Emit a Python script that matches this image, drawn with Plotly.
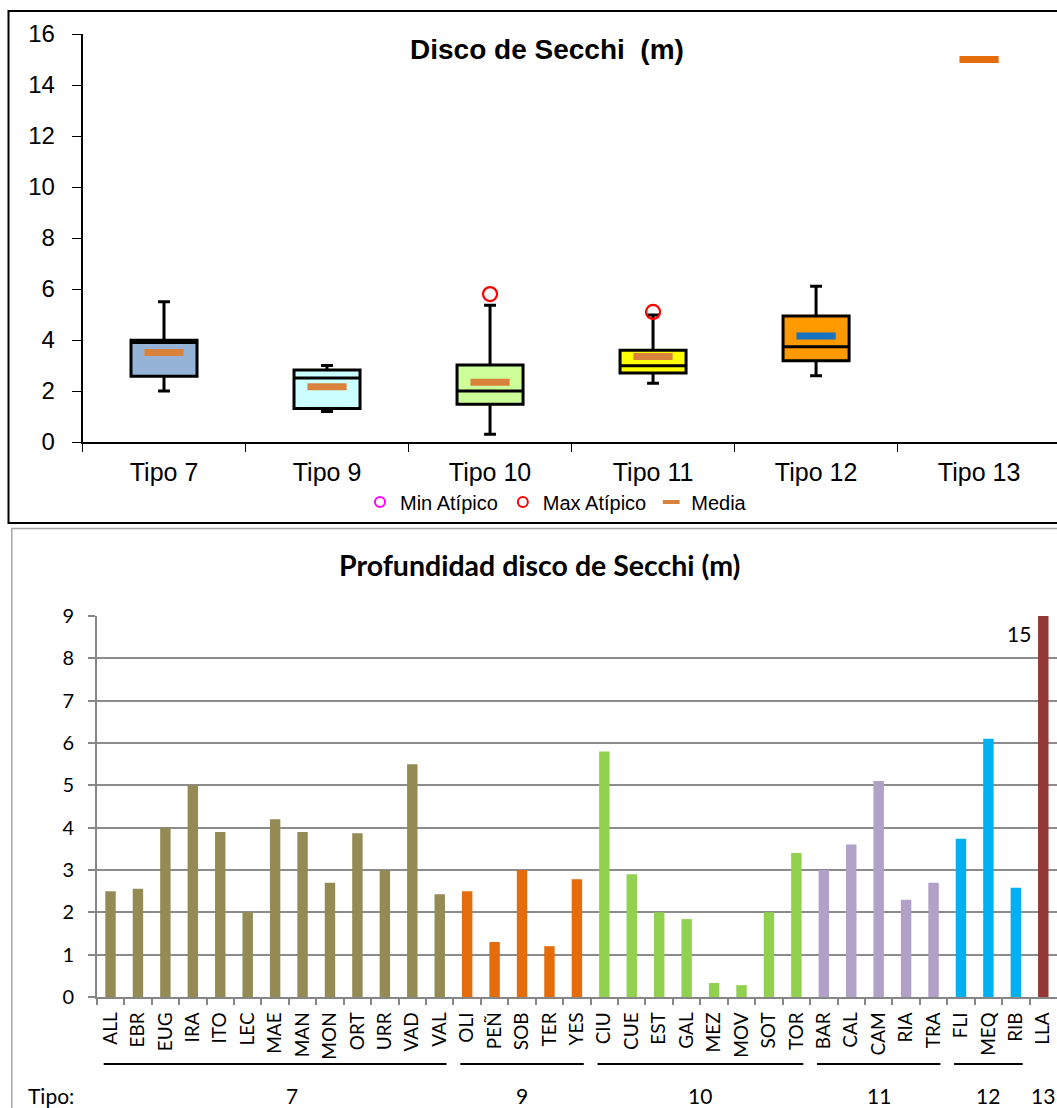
import plotly.graph_objects as go

W, H = 1057, 1108

# ---------------- Box summary per river type ----------------
tipos = ["Tipo 7", "Tipo 9", "Tipo 10", "Tipo 11", "Tipo 12", "Tipo 13"]
box_tipos = ["Tipo 7", "Tipo 9", "Tipo 10", "Tipo 11", "Tipo 12"]
whisker_low = [2.0, 1.2, 0.3, 2.3, 2.6]
q1 = [2.58, 1.31, 1.48, 2.71, 3.19]
median = [3.9, 2.51, 2.0, 2.99, 3.74]
q3 = [3.99, 2.82, 3.02, 3.6, 4.94]
whisker_high = [5.5, 3.0, 5.36, 4.98, 6.11]
means = [3.51, 2.17, 2.34, 3.35, 4.16, 15.0]
max_out_tipos = ["Tipo 10", "Tipo 11"]
max_out_vals = [5.8, 5.1]

box_fill = ["#95B3D7", "#CCFFFF", "#CCFF99", "#FFFF00", "#FF9900"]
mean_colors = ["#D8823C", "#D8823C", "#D8823C", "#D8823C", "#1473C4", "#E46C0A"]

# ---------------- Secchi depth per station ----------------
codes = ["ALL", "EBR", "EUG", "IRA", "ITO", "LEC", "MAE", "MAN", "MON", "ORT",
         "URR", "VAD", "VAL", "OLI", "PEÑ", "SOB", "TER", "YES", "CIU", "CUE",
         "EST", "GAL", "MEZ", "MOV", "SOT", "TOR", "BAR", "CAL", "CAM", "RIA",
         "TRA", "FLI", "MEQ", "RIB", "LLA"]
depth = [2.5, 2.56, 4.0, 5.0, 3.9, 2.0, 4.2, 3.9, 2.7, 3.87,
         3.0, 5.5, 2.43, 2.5, 1.3, 3.0, 1.2, 2.78, 5.8, 2.9,
         2.0, 1.84, 0.33, 0.28, 2.0, 3.4, 3.0, 3.6, 5.1, 2.3,
         2.7, 3.74, 6.1, 2.58, 15.0]
code_tipo = [7, 7, 7, 7, 7, 7, 7, 7, 7, 7,
             7, 7, 7, 9, 9, 9, 9, 9, 10, 10,
             10, 10, 10, 10, 10, 10, 11, 11, 11, 11,
             11, 12, 12, 12, 13]
tipo_color = {7: "#948A54", 9: "#E46C0A", 10: "#92D050", 11: "#B1A0C7",
              12: "#00B0F0", 13: "#953735"}
bar_ymax = 9

ARIAL = "Liberation Sans, Arial, sans-serif"
CALI = "Lato, Carlito, Calibri, sans-serif"


def px_x(v):
    return v / W


def px_y(v):
    return 1 - v / H


fig = go.Figure()

# ----- top panel: boxes -----
for i, t in enumerate(box_tipos):
    fig.add_trace(go.Box(
        x=[t], q1=[q1[i]], median=[median[i]], q3=[q3[i]],
        lowerfence=[whisker_low[i]], upperfence=[whisker_high[i]],
        fillcolor=box_fill[i], line=dict(color="black", width=3),
        width=0.405, whiskerwidth=0.18, boxpoints=False,
        showlegend=False, hoverinfo="skip", xaxis="x", yaxis="y",
    ))

# means as short dashes
fig.add_trace(go.Scatter(
    x=tipos, y=means, mode="markers", showlegend=False, hoverinfo="skip",
    marker=dict(symbol="line-ew", size=28,
                line=dict(width=7, color=mean_colors)),
    xaxis="x", yaxis="y",
))
# maximum outliers
fig.add_trace(go.Scatter(
    x=max_out_tipos, y=max_out_vals, mode="markers", showlegend=False,
    hoverinfo="skip",
    marker=dict(symbol="circle-open", size=14, color="#FF0000",
                line=dict(width=2.2, color="#FF0000")),
    xaxis="x", yaxis="y",
))

# legend entries
fig.add_trace(go.Scatter(
    x=[tipos[0]], y=[None], mode="markers", name="Min Atípico",
    marker=dict(symbol="circle-open", size=10, color="#FF00FF",
                line=dict(width=2, color="#FF00FF")),
    xaxis="x", yaxis="y",
))
fig.add_trace(go.Scatter(
    x=[tipos[0]], y=[None], mode="markers", name="Max Atípico",
    marker=dict(symbol="circle-open", size=10, color="#FF0000",
                line=dict(width=2, color="#FF0000")),
    xaxis="x", yaxis="y",
))
fig.add_trace(go.Scatter(
    x=[tipos[0]], y=[None], mode="markers", name="Media",
    marker=dict(symbol="line-ew", size=12,
                line=dict(width=4, color="#D8823C")),
    xaxis="x", yaxis="y",
))

# ----- bottom panel: bars -----
fig.add_trace(go.Bar(
    x=codes, y=depth, marker=dict(color=[tipo_color[t] for t in code_tipo],
                                  line=dict(width=0)),
    showlegend=False, hoverinfo="skip", xaxis="x2", yaxis="y2",
))

fig.update_layout(
    template="none",
    width=W, height=H, autosize=False,
    margin=dict(l=0, r=0, t=0, b=0, pad=0),
    paper_bgcolor="white", plot_bgcolor="white",
    boxmode="overlay", bargap=0.62,
    showlegend=True,
    legend=dict(orientation="h", x=px_x(556), y=px_y(502),
                xanchor="center", yanchor="middle",
                font=dict(family=ARIAL, size=20, color="black"),
                bgcolor="rgba(0,0,0,0)", itemwidth=30,
                tracegroupgap=0),
    xaxis=dict(
        domain=[px_x(82.5), 1], type="category", categoryorder="array",
        categoryarray=tipos, range=[-0.5, 5.478], automargin=False,
        tickson="boundaries", ticks="outside", ticklen=8,
        tickcolor="black", tickwidth=1.2,
        showline=True, linecolor="black", linewidth=1.5,
        showgrid=False, zeroline=False, ticklabelstandoff=7,
        tickfont=dict(family=ARIAL, size=25, color="black"),
        anchor="y",
    ),
    yaxis=dict(
        domain=[px_y(442), px_y(34)], range=[0, 16], dtick=2,
        automargin=False,
        ticks="outside", ticklen=9, tickcolor="black", tickwidth=1.2,
        showline=True, linecolor="black", linewidth=1.5,
        showgrid=False, zeroline=False, ticklabelstandoff=12,
        tickfont=dict(family=ARIAL, size=24, color="black"),
        anchor="x",
    ),
    xaxis2=dict(
        domain=[px_x(96.8), 1], type="category", categoryorder="array",
        categoryarray=codes, range=[-0.5, len(codes) - 0.5],
        automargin=False,
        tickson="boundaries", ticks="outside", ticklen=6,
        tickcolor="#868686", tickwidth=1.5, tickangle=-90,
        showline=True, linecolor="#868686", linewidth=1.5,
        showgrid=False, zeroline=False, ticklabelstandoff=6,
        tickfont=dict(family=CALI, size=19, color="black"),
        anchor="y2",
    ),
    yaxis2=dict(
        domain=[px_y(997), px_y(616)], range=[0, bar_ymax], dtick=1,
        automargin=False,
        ticks="outside", ticklen=7, tickcolor="#868686", tickwidth=1.5,
        showline=True, linecolor="#868686", linewidth=1.5,
        showgrid=True, gridcolor="#8C8C8C", gridwidth=1.5,
        zeroline=False, ticklabelstandoff=10,
        tickfont=dict(family=CALI, size=20, color="black"),
        anchor="x2",
    ),
)

# panel frames
fig.add_shape(type="rect", xref="paper", yref="paper",
              x0=px_x(8.5), x1=1.02, y0=px_y(523), y1=px_y(11),
              line=dict(color="black", width=2), layer="below")
fig.add_shape(type="rect", xref="paper", yref="paper",
              x0=px_x(11.8), x1=1.02, y0=-0.02, y1=px_y(528.5),
              line=dict(color="#A6A6A6", width=1.5), layer="below")

# titles
fig.add_annotation(text="<b>Disco de Secchi \u00a0(m)</b>", xref="paper",
                   yref="paper", x=px_x(546.5), y=px_y(50), showarrow=False,
                   font=dict(family=ARIAL, size=28, color="black"),
                   xanchor="center", yanchor="middle")
fig.add_annotation(text="<b>Profundidad disco de Secchi (m)</b>", xref="paper",
                   yref="paper", x=px_x(539), y=px_y(565), showarrow=False,
                   font=dict(family=CALI, size=28.5, color="black"),
                   xanchor="center", yanchor="middle")

# value label for the bar that runs off the scale
for i, v in enumerate(depth):
    if v > bar_ymax:
        fig.add_annotation(text=f"{v:g}", xref="x2", yref="y2", x=i, y=bar_ymax,
                           xanchor="right", yanchor="top", xshift=-10, yshift=-3,
                           showarrow=False,
                           font=dict(family=CALI, size=21, color="black"))

# type groupings under the station labels
fig.add_annotation(text="Tipo:", xref="paper", yref="paper", x=px_x(51),
                   y=px_y(1095), showarrow=False, xanchor="center",
                   yanchor="middle", font=dict(family=CALI, size=21, color="black"))
for t in tipo_color:
    idx = [i for i, c in enumerate(code_tipo) if c == t]
    first, last = idx[0], idx[-1]
    if last > first:
        fig.add_shape(type="line", xref="x2", yref="paper",
                      x0=first - 0.25, x1=last + 0.25,
                      y0=px_y(1064), y1=px_y(1064),
                      line=dict(color="black", width=2))
    # the "7" label sits a little right of its group's centre
    label_x = (first + last) / 2 + (0.6 if t == 7 else 0)
    fig.add_annotation(text=str(t), xref="x2", yref="paper",
                       x=label_x, y=px_y(1095), showarrow=False,
                       xanchor="center", yanchor="middle",
                       font=dict(family=CALI, size=21, color="black"))

fig.write_html("out.html")
